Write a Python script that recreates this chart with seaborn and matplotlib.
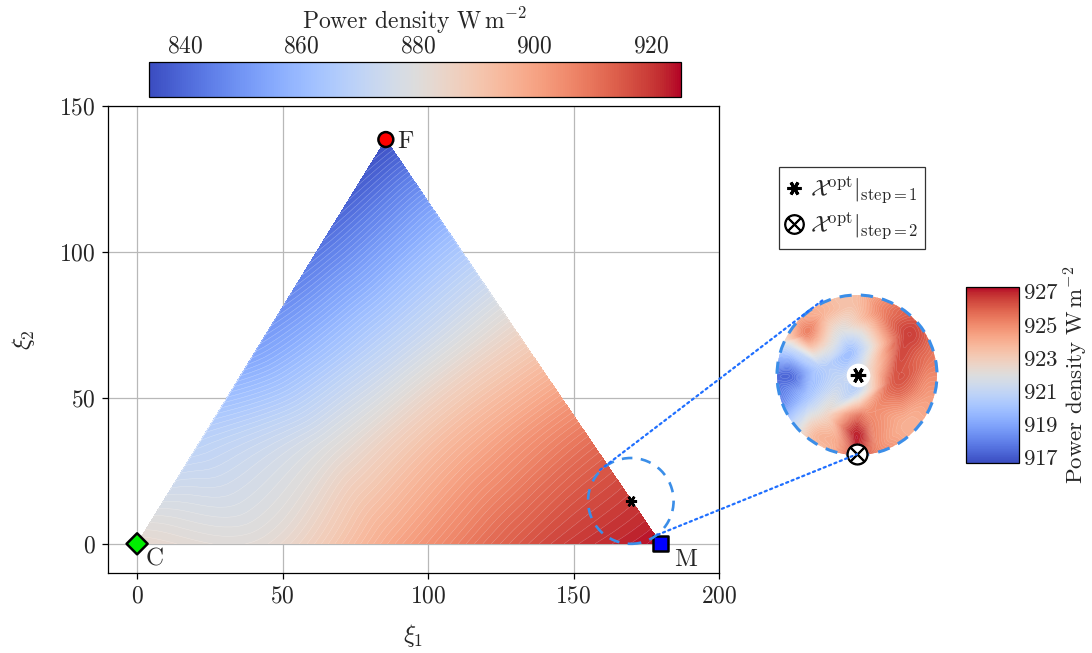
import numpy as np
import matplotlib
matplotlib.use("Agg")
import matplotlib.pyplot as plt
import matplotlib.tri as mtri
import pandas as pd
import seaborn as sns
from matplotlib.colors import Normalize
from matplotlib.lines import Line2D
from matplotlib.patches import Circle, ConnectionPatch

# =========================
# DATA
# =========================

# design vertices of the simplex
vertex_names = ["C", "F", "M"]
vertex_x = [0.0, 85.5, 180.0]
vertex_y = [0.0, 138.5, 0.0]
vertex_colors = ["#00ee00", "#ff0000", "#0000ff"]

# power density sampled across the triangle (W m^-2)
field_x = [0, 45, 90, 135, 180, 21.4, 42.75, 64.1, 85.5, 109.1, 132.75, 156.4, 66.4, 87.75, 111.4]
field_y = [0, 0, 0, 0, 0, 34.6, 69.25, 103.9, 138.5, 103.9, 69.25, 34.6, 34.6, 69.25, 34.6]
field_val = [883, 882, 900, 916, 925, 869, 852, 842, 834, 862, 887, 911, 879, 870, 896]

# zoomed neighbourhood of the step-1 optimum (normalised disk coords)
zoom_x = [-0.65, -0.81, -0.90, -0.60, -0.40, -0.56, -0.06, -0.23, -0.02, -0.40, -0.85,
          0.02, 0.19, 0.44, 0.60, 0.27, 0.90, 0.90, 0.60, -0.02, 0.19, -0.23, 0.27,
          -0.23, -0.44, -0.35, 0.0, 0.0, 0.10]
zoom_y = [0.49, 0.01, -0.20, -0.28, -0.49, -0.74, 0.30, 0.55, 0.89, 0.80, 0.35,
          -0.20, 0.10, -0.07, 0.51, 0.80, 0.22, -0.28, -0.61, -0.74, -0.53, -0.86, -0.90,
          -0.07, 0.10, 0.35, 0.0, -0.50, -0.35]
zoom_val = [925.0, 917.5, 918.0, 920.0, 922.5, 923.5, 920.0, 922.0, 923.5, 923.8, 921.0,
            921.0, 923.0, 926.0, 926.5, 925.0, 925.5, 924.5, 924.0, 927.0, 925.0, 924.5, 925.0,
            921.0, 920.5, 922.0, 921.5, 925.5, 924.0]
# values along the rim, every 22.5 degrees starting at +x
rim_angle = np.arange(0, 360, 22.5)
rim_val = [925.0, 925.5, 926.0, 925.0, 923.5, 923.5, 923.8, 921.5,
           917.5, 918.0, 922.0, 923.5, 926.5, 925.0, 924.0, 924.5]

opt_step1 = (169.7, 14.7)
zoom_radius = 14.7

main_ticks = [840, 860, 880, 900, 920]
main_range = (833.8, 925.1)
zoom_ticks = [917, 919, 921, 923, 925, 927]
zoom_range = (916.65, 927.27)

# =========================
# STYLE
# =========================

sns.set_theme(style="whitegrid", rc={
    "grid.color": "#b8b8b8",
    "grid.linewidth": 0.9,
    "axes.edgecolor": "black",
    "axes.linewidth": 0.9,
})
plt.rcParams["font.family"] = ["cmr10", "DejaVu Serif"]
plt.rcParams["mathtext.fontset"] = "cm"
plt.rcParams["axes.formatter.use_mathtext"] = True

cmap = plt.get_cmap("coolwarm")
fs = 17

fig = plt.figure(figsize=(10.92, 6.53), dpi=100)
ax = fig.add_axes([0.0989, 0.1225, 0.5595, 0.7152])

# =========================
# MAIN TRIANGLE FIELD
# =========================

tri = mtri.Triangulation(field_x, field_y)
refiner = mtri.UniformTriRefiner(tri)
interp = mtri.CubicTriInterpolator(tri, np.array(field_val, float), kind="geom")
tri_f, val_f = refiner.refine_field(np.array(field_val, float), triinterpolator=interp, subdiv=4)

norm_main = Normalize(*main_range)
levels_main = np.linspace(main_range[0], main_range[1], 90)
ax.tricontourf(tri_f, val_f, levels=levels_main, cmap=cmap, norm=norm_main, extend="both", zorder=1)
ax.tricontour(tri_f, val_f, levels=levels_main, colors="white", linewidths=0.35, alpha=0.35, zorder=2)

ax.set_xlim(-10, 200)
ax.set_ylim(-10, 150)
ax.set_xticks([0, 50, 100, 150, 200])
ax.set_yticks([0, 50, 100, 150])
ax.set_axisbelow(True)
ax.tick_params(axis="both", direction="out", length=4, width=0.9, color="black",
               labelsize=fs, bottom=True, left=True, pad=5)
ax.set_xlabel(r"$\xi_1$", fontsize=fs + 1, labelpad=10)
ax.set_ylabel(r"$\xi_2$", fontsize=fs + 1, labelpad=16)

# vertices
verts = pd.DataFrame({"x": vertex_x, "y": vertex_y, "name": vertex_names})
sns.scatterplot(data=verts, x="x", y="y", hue="name", style="name",
                palette=dict(zip(vertex_names, vertex_colors)),
                markers={"C": "D", "F": "o", "M": "s"},
                s=115, edgecolor="black", linewidth=1.8, legend=False,
                ax=ax, zorder=6, clip_on=False)
ax.text(vertex_x[0] + 3.0, vertex_y[0] - 5.5, "C", fontsize=fs + 1, va="center", ha="left")
ax.text(vertex_x[1] + 4.0, vertex_y[1] - 0.8, "F", fontsize=fs + 1, va="center", ha="left")
ax.text(vertex_x[2] + 4.5, vertex_y[2] - 5.5, "M", fontsize=fs + 1, va="center", ha="left")

# step 1 optimum and zoom window
ax.plot(*opt_step1, marker=(6, 2, 90), color="black", ms=8, mew=1.8, zorder=7)
ax.add_patch(Circle(opt_step1, zoom_radius, fill=False, ec="#3b8ee8", lw=1.9,
                    ls=(0, (4, 3.2)), zorder=8, clip_on=False))

# =========================
# TOP COLORBAR
# =========================

cax = fig.add_axes([0.1364, 0.8515, 0.4872, 0.0536])
sm = plt.cm.ScalarMappable(norm=norm_main, cmap=cmap)
cb = fig.colorbar(sm, cax=cax, orientation="horizontal")
cb.set_ticks(main_ticks)
cb.outline.set_linewidth(0.9)
cax.tick_params(axis="x", which="both", top=True, bottom=True, labeltop=True, labelbottom=False,
                direction="in", length=6, color="#808080", labelsize=fs, pad=3)
cax.xaxis.set_label_position("top")
cax.set_xlabel(r"Power density $\mathrm{W\,m^{-2}}$", fontsize=fs, labelpad=5)

# =========================
# ZOOM INSET
# =========================

ax_in = fig.add_axes([(857 - 82) / 1092, (653 - 375 - 82) / 653, 164 / 1092, 164 / 653])
ax_in.set_xlim(-1.025, 1.025)
ax_in.set_ylim(-1.025, 1.025)
ax_in.set_aspect("equal")
ax_in.axis("off")

rim_x = list(1.08 * np.cos(np.deg2rad(rim_angle)))
rim_y = list(1.08 * np.sin(np.deg2rad(rim_angle)))
zx = np.array(zoom_x + rim_x)
zy = np.array(zoom_y + rim_y)
zv = np.array(zoom_val + rim_val, float)
tri_z = mtri.Triangulation(zx, zy)
interp_z = mtri.CubicTriInterpolator(tri_z, zv, kind="geom")
tri_zf, val_zf = mtri.UniformTriRefiner(tri_z).refine_field(zv, triinterpolator=interp_z, subdiv=4)

norm_zoom = Normalize(*zoom_range)
levels_zoom = np.linspace(zoom_range[0], zoom_range[1], 90)
disk = Circle((0, 0), 1.0, transform=ax_in.transData)
cs = ax_in.tricontourf(tri_zf, val_zf, levels=levels_zoom, cmap=cmap, norm=norm_zoom, extend="both")
cs.set_clip_path(disk)
cl = ax_in.tricontour(tri_zf, val_zf, levels=levels_zoom, colors="white", linewidths=0.3, alpha=0.3)
cl.set_clip_path(disk)
ax_in.add_patch(Circle((0, 0), 1.0, fill=False, ec="#3b8ee8", lw=2.2, ls=(0, (4, 3)),
                       zorder=5, clip_on=False))

ax_in.plot(0.01, 0.0, marker="o", color="white", ms=17, mew=0, zorder=6)
ax_in.plot(0.01, 0.0, marker=(6, 2, 90), color="black", ms=11, mew=2.2, zorder=7)
ax_in.plot(0.0, -0.99, marker="o", mfc="white", mec="white", ms=13, zorder=6, clip_on=False)
ax_in.plot(0.0, -0.99, marker=r"$\otimes$", color="black", ms=15, zorder=7, clip_on=False)

# dotted connectors between zoom window and inset
for pa, pb in [((159.1, 25.3), (-0.41, 0.95)), ((178.9, 3.1), (0.0, -0.99))]:
    con = ConnectionPatch(xyA=pa, coordsA=ax.transData, xyB=pb, coordsB=ax_in.transData,
                          ls=(0, (1, 1.6)), color="#1f6fff", lw=1.6, zorder=9)
    fig.add_artist(con)

# =========================
# RIGHT COLORBAR
# =========================

cax2 = fig.add_axes([0.8846, 0.291, 0.0485, 0.2695])
sm2 = plt.cm.ScalarMappable(norm=norm_zoom, cmap=cmap)
cb2 = fig.colorbar(sm2, cax=cax2, orientation="vertical")
cb2.set_ticks(zoom_ticks)
cb2.outline.set_linewidth(0.9)
cax2.tick_params(axis="y", which="both", left=True, right=True, labelleft=False, labelright=True,
                 direction="in", length=6, color="#808080", labelsize=fs - 0.5, pad=3)
cax2.set_ylabel(r"Power density $\mathrm{W\,m^{-2}}$", fontsize=fs - 0.5, labelpad=2)

# =========================
# LEGEND
# =========================

handles = [
    Line2D([], [], ls="none", marker=(6, 2, 90), color="black", ms=10, mew=2.2),
    Line2D([], [], ls="none", marker=r"$\otimes$", color="black", ms=14),
]
labels = [r"$\mathcal{X}^{\mathrm{opt}}|_{\mathrm{step}=1}$",
          r"$\mathcal{X}^{\mathrm{opt}}|_{\mathrm{step}=2}$"]
leg = fig.legend(handles, labels, loc="upper left", bbox_to_anchor=(779 / 1092, 1 - 167 / 653),
                 fontsize=fs, frameon=True, fancybox=False, edgecolor="black",
                 handlelength=0.7, handletextpad=0.3, borderpad=0.3, labelspacing=0.25,
                 borderaxespad=0)
leg.get_frame().set_linewidth(0.9)

fig.savefig("out.png", dpi=100)
